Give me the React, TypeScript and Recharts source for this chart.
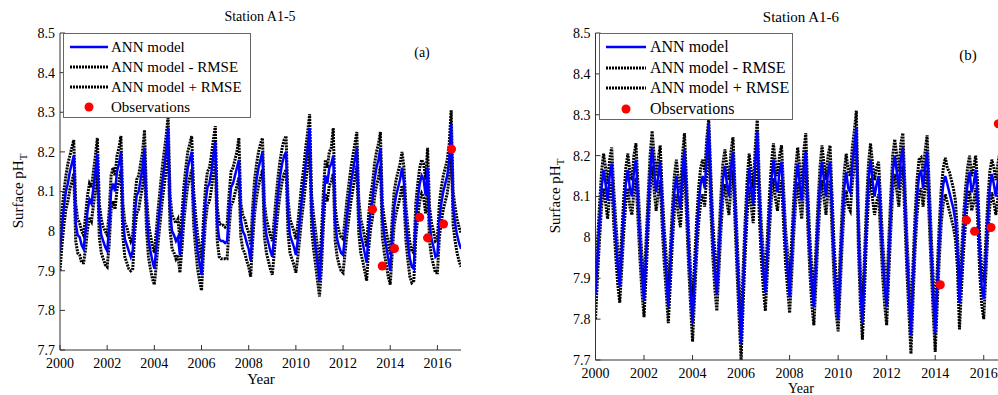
import React from "react";
import {
  ComposedChart,
  Line,
  Scatter,
  XAxis,
  YAxis,
} from "recharts";

// monthly values, Jan 2000 .. Jan 2017 (one row per year)
const modelA = [
  7.95, 8.01, 8.06, 8.10, 8.12, 8.15, 8.17, 8.19, 8.02, 7.99, 7.985, 7.965,
  7.955, 8.00, 8.05, 8.08, 8.07, 8.11, 8.15, 8.195, 8.03, 7.99, 7.975, 7.96,
  7.95, 8.01, 8.10, 8.12, 8.10, 8.15, 8.17, 8.20, 8.03, 7.98, 7.965, 7.95,
  7.935, 7.95, 8.04, 8.09, 8.10, 8.13, 8.16, 8.21, 8.05, 7.98, 7.95, 7.925,
  7.905, 7.96, 8.02, 8.07, 8.12, 8.16, 8.20, 8.26, 8.05, 8.00, 7.99, 7.975,
  7.985, 7.94, 8.00, 8.07, 8.12, 8.16, 8.18, 8.20, 8.06, 8.00, 7.95, 7.92,
  7.89, 7.99, 8.07, 8.11, 8.12, 8.15, 8.19, 8.225, 8.02, 7.98, 7.975, 7.975,
  7.97, 7.975, 8.05, 8.11, 8.12, 8.14, 8.16, 8.18, 8.03, 8.00, 7.99, 7.97,
  7.955, 7.925, 8.02, 8.09, 8.13, 8.16, 8.18, 8.20, 8.03, 7.99, 7.97, 7.95,
  7.935, 7.99, 8.05, 8.10, 8.14, 8.17, 8.19, 8.20, 8.04, 7.99, 7.975, 7.96,
  7.94, 7.98, 8.03, 8.08, 8.12, 8.17, 8.21, 8.26, 8.05, 8.00, 7.96, 7.92,
  7.875, 7.95, 8.06, 8.14, 8.12, 8.16, 8.17, 8.19, 8.02, 7.98, 7.96, 7.945,
  7.94, 7.99, 8.04, 8.08, 8.12, 8.15, 8.18, 8.21, 8.04, 7.99, 7.97, 7.945,
  7.92, 8.00, 8.05, 8.08, 8.13, 8.16, 8.18, 8.21, 8.03, 7.99, 7.96, 7.93,
  7.90, 7.99, 8.06, 8.09, 8.11, 8.13, 8.16, 8.12, 8.02, 7.97, 7.93, 7.91,
  7.905, 8.03, 8.08, 8.12, 8.14, 8.13, 8.09, 8.16, 8.02, 7.98, 7.96, 7.935,
  7.94, 8.03, 8.07, 8.10, 8.12, 8.14, 8.18, 8.27, 8.06, 8.02, 7.99, 7.97,
  7.955,
];

const upperA = [
  7.99, 8.05, 8.10, 8.14, 8.17, 8.19, 8.21, 8.23, 8.07, 8.03, 8.02, 8.00,
  7.99, 8.04, 8.09, 8.12, 8.11, 8.15, 8.19, 8.235, 8.07, 8.03, 8.01, 8.00,
  7.99, 8.05, 8.14, 8.16, 8.14, 8.19, 8.21, 8.24, 8.07, 8.02, 8.01, 7.99,
  7.975, 7.99, 8.08, 8.13, 8.14, 8.17, 8.20, 8.255, 8.09, 8.02, 7.99, 7.965,
  7.945, 8.00, 8.06, 8.11, 8.16, 8.20, 8.24, 8.29, 8.09, 8.04, 8.03, 8.02,
  8.03, 7.98, 8.04, 8.11, 8.16, 8.20, 8.22, 8.24, 8.10, 8.04, 7.99, 7.96,
  7.93, 8.03, 8.11, 8.15, 8.16, 8.19, 8.23, 8.265, 8.06, 8.02, 8.015, 8.015,
  8.01, 8.015, 8.09, 8.15, 8.16, 8.18, 8.20, 8.235, 8.07, 8.04, 8.03, 8.01,
  7.995, 7.965, 8.06, 8.13, 8.17, 8.20, 8.22, 8.235, 8.07, 8.03, 8.01, 7.99,
  7.975, 8.03, 8.09, 8.14, 8.18, 8.21, 8.23, 8.24, 8.08, 8.03, 8.015, 8.00,
  7.98, 8.02, 8.07, 8.12, 8.16, 8.21, 8.25, 8.295, 8.09, 8.04, 8.00, 7.96,
  7.915, 7.99, 8.10, 8.18, 8.16, 8.20, 8.21, 8.26, 8.06, 8.02, 8.00, 7.985,
  7.98, 8.03, 8.08, 8.12, 8.16, 8.19, 8.22, 8.25, 8.08, 8.03, 8.01, 7.985,
  7.96, 8.04, 8.09, 8.12, 8.17, 8.20, 8.22, 8.25, 8.07, 8.03, 8.00, 7.97,
  7.94, 8.03, 8.10, 8.13, 8.15, 8.17, 8.20, 8.16, 8.06, 8.01, 7.97, 7.95,
  7.945, 8.07, 8.12, 8.16, 8.18, 8.17, 8.13, 8.21, 8.06, 8.02, 8.00, 7.975,
  7.98, 8.07, 8.11, 8.14, 8.16, 8.18, 8.22, 8.305, 8.10, 8.06, 8.03, 8.01,
  7.995,
];

const lowerA = [
  7.90, 7.965, 8.015, 8.055, 8.075, 8.105, 8.125, 8.145, 7.975, 7.945, 7.94, 7.92,
  7.92, 7.955, 8.005, 8.035, 8.025, 8.065, 8.105, 8.15, 7.985, 7.945, 7.93, 7.915,
  7.91, 7.965, 8.055, 8.075, 8.055, 8.105, 8.125, 8.155, 7.985, 7.935, 7.92, 7.905,
  7.90, 7.905, 7.995, 8.045, 8.055, 8.085, 8.115, 8.165, 8.005, 7.935, 7.905, 7.88,
  7.865, 7.915, 7.975, 8.025, 8.075, 8.115, 8.155, 8.215, 8.005, 7.955, 7.945, 7.93,
  7.94, 7.895, 7.955, 8.025, 8.075, 8.115, 8.135, 8.155, 8.015, 7.955, 7.905, 7.875,
  7.85, 7.945, 8.025, 8.065, 8.075, 8.105, 8.145, 8.18, 7.975, 7.935, 7.93, 7.93,
  7.93, 7.93, 8.005, 8.065, 8.075, 8.095, 8.115, 8.135, 7.985, 7.955, 7.945, 7.925,
  7.91, 7.885, 7.975, 8.045, 8.085, 8.115, 8.135, 8.155, 7.985, 7.945, 7.925, 7.905,
  7.89, 7.945, 8.005, 8.055, 8.095, 8.125, 8.145, 8.155, 7.995, 7.945, 7.93, 7.915,
  7.895, 7.935, 7.985, 8.035, 8.075, 8.125, 8.165, 8.215, 8.005, 7.955, 7.915, 7.875,
  7.835, 7.905, 8.015, 8.095, 8.075, 8.115, 8.125, 8.145, 7.975, 7.935, 7.915, 7.90,
  7.895, 7.945, 7.995, 8.035, 8.075, 8.105, 8.135, 8.165, 7.995, 7.945, 7.925, 7.90,
  7.875, 7.955, 8.005, 8.035, 8.085, 8.115, 8.135, 8.165, 7.985, 7.945, 7.915, 7.885,
  7.865, 7.945, 8.015, 8.045, 8.065, 8.085, 8.115, 8.075, 7.975, 7.925, 7.885, 7.87,
  7.875, 7.985, 8.035, 8.075, 8.095, 8.085, 8.045, 8.115, 7.975, 7.935, 7.915, 7.895,
  7.895, 7.985, 8.025, 8.055, 8.075, 8.095, 8.135, 8.225, 8.015, 7.975, 7.945, 7.925,
  7.91,
];

const modelB = [
  7.86, 7.95, 8.04, 8.12, 8.165, 8.13, 8.09, 8.15, 8.18, 8.08, 8.00, 7.93,
  7.88, 7.97, 8.06, 8.13, 8.165, 8.12, 8.10, 8.16, 8.19, 8.09, 7.99, 7.91,
  7.845, 7.95, 8.06, 8.16, 8.22, 8.16, 8.11, 8.15, 8.185, 8.07, 7.98, 7.91,
  7.83, 7.93, 8.03, 8.11, 8.15, 8.10, 8.07, 8.16, 8.215, 8.10, 7.98, 7.88,
  7.79, 7.90, 8.00, 8.08, 8.13, 8.15, 8.12, 8.20, 8.28, 8.12, 8.00, 7.92,
  7.86, 7.96, 8.06, 8.14, 8.175, 8.13, 8.10, 8.17, 8.21, 8.08, 7.96, 7.85,
  7.74, 7.88, 8.00, 8.10, 8.17, 8.12, 8.08, 8.18, 8.26, 8.10, 7.99, 7.92,
  7.865, 7.96, 8.06, 8.14, 8.19, 8.14, 8.11, 8.16, 8.185, 8.08, 7.98, 7.92,
  7.855, 7.95, 8.05, 8.13, 8.18, 8.13, 8.09, 8.17, 8.21, 8.07, 7.96, 7.88,
  7.83, 7.93, 8.04, 8.13, 8.185, 8.14, 8.10, 8.16, 8.185, 8.06, 7.94, 7.86,
  7.80, 7.92, 8.03, 8.12, 8.16, 8.12, 8.11, 8.18, 8.22, 8.27, 8.02, 7.88,
  7.79, 7.91, 8.04, 8.14, 8.19, 8.14, 8.10, 8.13, 8.15, 8.05, 7.95, 7.88,
  7.83, 7.95, 8.06, 8.16, 8.20, 8.16, 8.12, 8.19, 8.22, 8.09, 7.96, 7.86,
  7.76, 7.89, 8.01, 8.10, 8.15, 8.165, 8.12, 8.17, 8.21, 8.09, 7.97, 7.86,
  7.765, 7.88, 7.99, 8.08, 8.13, 8.15, 8.13, 8.11, 8.09, 8.07, 8.04, 7.97,
  7.84, 7.92, 8.01, 8.08, 8.13, 8.16, 8.11, 8.13, 8.165, 8.09, 7.96, 7.88,
  7.85, 7.95, 8.05, 8.12, 8.155, 8.13, 8.10, 8.14, 8.17, 8.07, 7.96, 7.88,
  7.85,
];

const upperB = [
  7.90, 7.99, 8.08, 8.16, 8.205, 8.17, 8.13, 8.19, 8.22, 8.12, 8.04, 7.97,
  7.92, 8.01, 8.10, 8.17, 8.205, 8.16, 8.14, 8.20, 8.23, 8.13, 8.03, 7.95,
  7.885, 7.99, 8.10, 8.20, 8.26, 8.20, 8.15, 8.19, 8.225, 8.11, 8.02, 7.95,
  7.87, 7.97, 8.07, 8.15, 8.19, 8.14, 8.11, 8.20, 8.255, 8.14, 8.02, 7.92,
  7.83, 7.94, 8.04, 8.12, 8.17, 8.19, 8.16, 8.24, 8.29, 8.16, 8.04, 7.96,
  7.90, 8.00, 8.10, 8.18, 8.215, 8.17, 8.14, 8.21, 8.245, 8.12, 8.00, 7.89,
  7.78, 7.92, 8.04, 8.14, 8.205, 8.16, 8.12, 8.22, 8.29, 8.14, 8.03, 7.96,
  7.905, 8.00, 8.10, 8.18, 8.23, 8.18, 8.15, 8.20, 8.225, 8.12, 8.02, 7.96,
  7.895, 7.99, 8.09, 8.17, 8.22, 8.17, 8.13, 8.21, 8.255, 8.11, 8.00, 7.92,
  7.87, 7.97, 8.08, 8.17, 8.225, 8.18, 8.14, 8.20, 8.225, 8.10, 7.98, 7.90,
  7.84, 7.96, 8.07, 8.16, 8.205, 8.16, 8.15, 8.22, 8.26, 8.31, 8.06, 7.92,
  7.83, 7.95, 8.08, 8.18, 8.23, 8.18, 8.14, 8.17, 8.185, 8.09, 7.99, 7.92,
  7.87, 7.99, 8.10, 8.20, 8.24, 8.20, 8.16, 8.23, 8.255, 8.13, 8.00, 7.90,
  7.80, 7.93, 8.05, 8.14, 8.19, 8.195, 8.16, 8.21, 8.25, 8.13, 8.01, 7.90,
  7.805, 7.92, 8.03, 8.12, 8.17, 8.195, 8.17, 8.16, 8.14, 8.12, 8.09, 8.01,
  7.88, 7.96, 8.05, 8.12, 8.17, 8.20, 8.15, 8.17, 8.20, 8.13, 8.00, 7.92,
  7.89, 7.99, 8.09, 8.16, 8.19, 8.17, 8.14, 8.18, 8.21, 8.11, 8.00, 7.92,
  7.89,
];

const lowerB = [
  7.80, 7.905, 7.995, 8.075, 8.12, 8.085, 8.045, 8.105, 8.135, 8.035, 7.955, 7.885,
  7.84, 7.925, 8.015, 8.085, 8.12, 8.075, 8.055, 8.115, 8.145, 8.045, 7.945, 7.865,
  7.805, 7.905, 8.015, 8.115, 8.175, 8.115, 8.065, 8.105, 8.14, 8.025, 7.935, 7.865,
  7.79, 7.885, 7.985, 8.065, 8.105, 8.055, 8.025, 8.115, 8.17, 8.055, 7.935, 7.835,
  7.745, 7.855, 7.955, 8.035, 8.085, 8.105, 8.075, 8.155, 8.235, 8.075, 7.955, 7.875,
  7.82, 7.915, 8.015, 8.095, 8.13, 8.085, 8.055, 8.125, 8.165, 8.035, 7.915, 7.805,
  7.70, 7.835, 7.955, 8.055, 8.125, 8.075, 8.035, 8.135, 8.215, 8.055, 7.945, 7.875,
  7.82, 7.915, 8.015, 8.095, 8.145, 8.095, 8.065, 8.115, 8.14, 8.035, 7.935, 7.875,
  7.815, 7.905, 8.005, 8.085, 8.135, 8.085, 8.045, 8.125, 8.165, 8.025, 7.915, 7.835,
  7.785, 7.885, 7.995, 8.085, 8.14, 8.095, 8.055, 8.115, 8.14, 8.015, 7.895, 7.815,
  7.77, 7.875, 7.985, 8.075, 8.115, 8.075, 8.065, 8.135, 8.175, 8.225, 7.975, 7.835,
  7.75, 7.865, 7.995, 8.095, 8.145, 8.095, 8.055, 8.085, 8.105, 8.005, 7.905, 7.835,
  7.785, 7.905, 8.015, 8.115, 8.155, 8.115, 8.075, 8.145, 8.175, 8.045, 7.915, 7.815,
  7.715, 7.845, 7.965, 8.055, 8.105, 8.12, 8.075, 8.125, 8.165, 8.045, 7.925, 7.815,
  7.72, 7.835, 7.945, 8.035, 8.085, 8.105, 8.085, 8.065, 8.045, 8.025, 7.995, 7.925,
  7.775, 7.875, 7.965, 8.035, 8.085, 8.115, 8.065, 8.085, 8.12, 8.045, 7.915, 7.835,
  7.80, 7.905, 8.005, 8.075, 8.11, 8.085, 8.055, 8.095, 8.125, 8.025, 7.915, 7.835,
  7.81,
];

const obsYearsA = [2013.25, 2013.66, 2014.18, 2015.25, 2015.58, 2016.26, 2016.6];
const obsPhA = [8.055, 7.912, 7.956, 8.035, 7.983, 8.018, 8.207];
const obsYearsB = [2014.21, 2015.29, 2015.62, 2016.3, 2016.6];
const obsPhB = [7.884, 8.042, 8.015, 8.024, 8.278];

const xTicks = [2000, 2002, 2004, 2006, 2008, 2010, 2012, 2014, 2016];
const yTicks = [7.7, 7.8, 7.9, 8.0, 8.1, 8.2, 8.3, 8.4, 8.5];

const FONT = '"Liberation Serif", "Times New Roman", serif';
const AXIS = "#333";

function buildRows(model: number[], lower: number[], upper: number[]) {
  return model.map((v, i) => ({
    year: 2000 + i / 12,
    model: v,
    lower: lower[i],
    upper: upper[i],
  }));
}

function buildObs(years: number[], ph: number[]) {
  return years.map((y, i) => ({ year: y, ph: ph[i] }));
}

const fmt = (v: number) => String(Number(v.toFixed(1)));

function Panel(props: {
  left: number;
  width: number;
  yAxisWidth: number;
  marginRight: number;
  xAxisHeight: number;
  xTickMargin: number;
  rows: any[];
  obs: any[];
}) {
  const tickStyle = { fill: "#000", fontSize: 14, fontFamily: FONT };
  return (
    <div style={{ position: "absolute", left: props.left, top: 0 }}>
      <ComposedChart
        width={props.width}
        height={395}
        data={props.rows}
        margin={{ top: 33, right: props.marginRight, bottom: 0, left: 0 }}
        style={{ fontFamily: FONT }}
      >
        <XAxis
          dataKey="year"
          type="number"
          domain={[2000, 2017]}
          ticks={xTicks}
          allowDataOverflow
          height={props.xAxisHeight}
          tickSize={-5}
          tickMargin={props.xTickMargin}
          stroke={AXIS}
          tick={tickStyle}
        />
        <XAxis
          xAxisId="top"
          orientation="top"
          type="number"
          domain={[2000, 2017]}
          ticks={xTicks}
          allowDataOverflow
          height={0}
          tickSize={-5}
          tick={false}
          stroke={AXIS}
        />
        <YAxis
          type="number"
          domain={[7.7, 8.5]}
          ticks={yTicks}
          allowDataOverflow
          width={props.yAxisWidth}
          tickSize={-5}
          tickMargin={10}
          tickFormatter={fmt}
          stroke={AXIS}
          tick={tickStyle}
        />
        <YAxis
          yAxisId="right"
          orientation="right"
          type="number"
          domain={[7.7, 8.5]}
          ticks={yTicks}
          allowDataOverflow
          width={0}
          tickSize={-5}
          tick={false}
          stroke={AXIS}
        />
        <Line
          dataKey="lower"
          type="linear"
          stroke="#000"
          strokeWidth={3}
          strokeDasharray="2 1"
          dot={false}
          isAnimationActive={false}
        />
        <Line
          dataKey="upper"
          type="linear"
          stroke="#000"
          strokeWidth={3}
          strokeDasharray="2 1"
          dot={false}
          isAnimationActive={false}
        />
        <Line
          dataKey="model"
          type="linear"
          stroke="#0000ff"
          strokeWidth={2.5}
          dot={false}
          isAnimationActive={false}
        />
        <Scatter
          data={props.obs}
          dataKey="ph"
          fill="#ff0000"
          isAnimationActive={false}
        />
      </ComposedChart>
    </div>
  );
}

function LegendBox(props: { left: number; width: number; height: number; rowGap: number; textX: number; lineW: number; fontSize: number }) {
  const items = [
    { name: "ANN model", kind: "blue" },
    { name: "ANN model - RMSE", kind: "black" },
    { name: "ANN model + RMSE", kind: "black" },
    { name: "Observations", kind: "dot" },
  ];
  return (
    <div
      style={{
        position: "absolute",
        left: props.left,
        top: 33,
        width: props.width,
        height: props.height,
        border: "1px solid #666",
        background: "#fff",
        boxSizing: "border-box",
        fontFamily: FONT,
        fontSize: props.fontSize,
      }}
    >
      {items.map((it, i) => {
        const cy = 13 + i * props.rowGap;
        return (
          <div key={it.name} style={{ position: "absolute", left: 0, top: cy - 10, height: 20, width: "100%" }}>
            <svg width={props.textX} height={20} style={{ position: "absolute", left: 0, top: 0 }}>
              {it.kind === "blue" && (
                <line x1={6} x2={6 + props.lineW} y1={10} y2={10} stroke="#0000ff" strokeWidth={2.5} />
              )}
              {it.kind === "black" && (
                <line x1={6} x2={6 + props.lineW} y1={10} y2={10} stroke="#000" strokeWidth={3} strokeDasharray="2 1" />
              )}
              {it.kind === "dot" && <circle cx={6 + props.lineW / 2} cy={10} r={4.5} fill="#ff0000" />}
            </svg>
            <span style={{ position: "absolute", left: props.textX, top: 0, lineHeight: "20px", whiteSpace: "nowrap" }}>
              {it.name}
            </span>
          </div>
        );
      })}
    </div>
  );
}

function Text(props: { x: number; y: number; size: number; children: React.ReactNode }) {
  return (
    <div
      style={{
        position: "absolute",
        left: props.x - 100,
        top: props.y - 7,
        width: 200,
        height: 14,
        lineHeight: "14px",
        textAlign: "center",
        fontFamily: FONT,
        fontSize: props.size,
        whiteSpace: "nowrap",
      }}
    >
      {props.children}
    </div>
  );
}

function YLabel(props: { x: number; y: number; size: number }) {
  return (
    <div
      style={{
        position: "absolute",
        left: props.x - 70,
        top: props.y - 10,
        width: 140,
        height: 20,
        lineHeight: "20px",
        textAlign: "center",
        fontFamily: FONT,
        fontSize: props.size,
        transform: "rotate(-90deg)",
        whiteSpace: "nowrap",
      }}
    >
      Surface pH
      <span style={{ fontSize: props.size * 0.72, position: "relative", top: 4 }}>T</span>
    </div>
  );
}

export default function App() {
  const rowsA = buildRows(modelA, lowerA, upperA);
  const rowsB = buildRows(modelB, lowerB, upperB);
  const obsA = buildObs(obsYearsA, obsPhA);
  const obsB = buildObs(obsYearsB, obsPhB);

  return (
    <div
      style={{
        position: "fixed",
        left: 0,
        top: 0,
        width: 998,
        height: 395,
        overflow: "hidden",
        background: "#fff",
        color: "#000",
      }}
    >
      <Panel
        left={0}
        width={470}
        yAxisWidth={60}
        marginRight={9}
        xAxisHeight={45}
        xTickMargin={13}
        rows={rowsA}
        obs={obsA}
      />
      <Panel
        left={500}
        width={520}
        yAxisWidth={95.5}
        marginRight={12}
        xAxisHeight={35}
        xTickMargin={13.5}
        rows={rowsB}
        obs={obsB}
      />

      <Text x={260} y={17} size={14}>Station A1-5</Text>
      <Text x={801} y={17} size={15}>Station A1-6</Text>
      <Text x={261} y={379} size={15}>Year</Text>
      <Text x={801} y={388.5} size={14}>Year</Text>
      <Text x={422} y={53} size={14}>(a)</Text>
      <Text x={968} y={55} size={15}>(b)</Text>
      <YLabel x={18} y={191} size={15} />
      <YLabel x={555} y={196} size={15} />

      <LegendBox left={63} width={188} height={85} rowGap={20} textX={47} lineW={38} fontSize={15} />
      <LegendBox left={599} width={194} height={87} rowGap={20.5} textX={50} lineW={40} fontSize={16} />
    </div>
  );
}
